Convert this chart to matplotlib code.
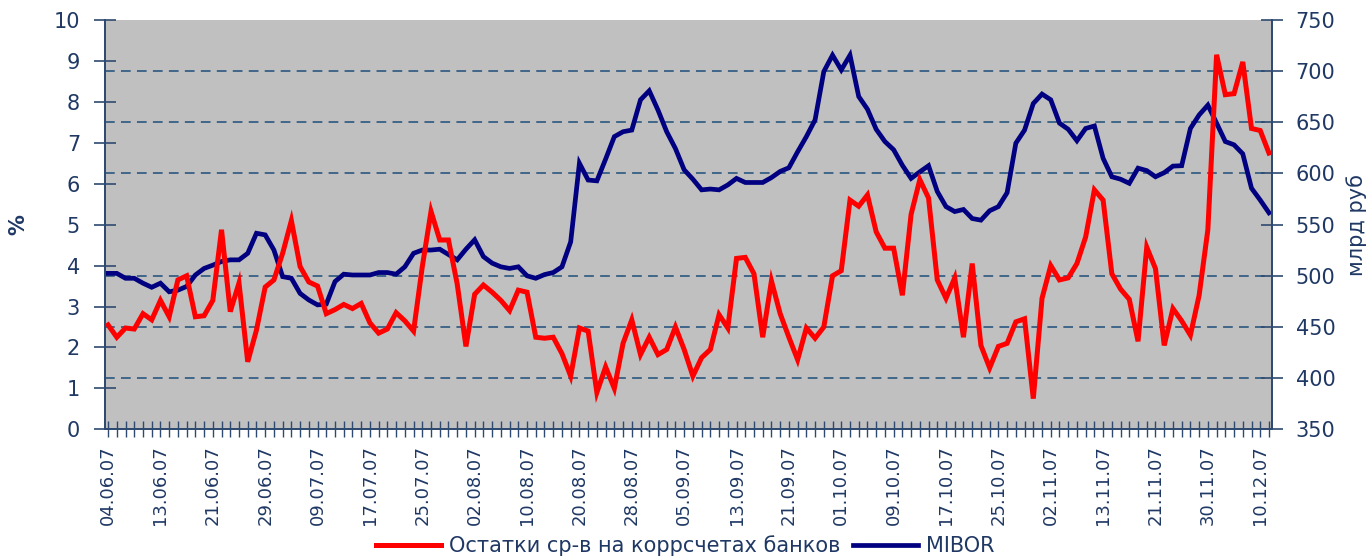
import matplotlib
matplotlib.use("Agg")
import matplotlib.pyplot as plt
from matplotlib.lines import Line2D

# ---- data ----
date_labels = ["04.06.07", "13.06.07", "21.06.07", "29.06.07", "09.07.07", "17.07.07",
               "25.07.07", "02.08.07", "10.08.07", "20.08.07", "28.08.07", "05.09.07",
               "13.09.07", "21.09.07", "01.10.07", "09.10.07", "17.10.07", "25.10.07",
               "02.11.07", "13.11.07", "21.11.07", "30.11.07", "10.12.07"]
label_step = 6

# Остатки ср-в на коррсчетах банков, млрд руб (right axis)
balances = [452, 440, 449, 448, 463, 457, 476, 460, 496, 500,
            460, 461, 476, 545, 465, 493, 416, 447, 489, 496,
            522, 554, 509, 494, 490, 463, 467, 472, 468, 473,
            454, 444, 448, 464, 456, 446, 509, 563, 535, 535,
            492, 431, 482, 491, 484, 476, 466, 486, 484, 440,
            439, 440, 424, 402, 449, 446, 386, 411, 390, 434,
            457, 423, 440, 423, 428, 450, 428, 402, 420, 428,
            462, 449, 517, 518, 502, 440, 495, 463, 440, 418,
            449, 439, 450, 500, 505, 574, 568, 579, 543, 527,
            527, 481, 560, 594, 576, 496, 478, 498, 440, 512,
            432, 410, 431, 434, 455, 458, 380, 478, 510, 496,
            498, 512, 538, 584, 574, 502, 487, 477, 436, 528,
            507, 432, 468, 456, 442, 481, 545, 716, 677, 678,
            709, 644, 642, 620]

# MIBOR, % (left axis)
mibor = [3.81, 3.81, 3.69, 3.69, 3.57, 3.47, 3.57, 3.36, 3.40, 3.49,
         3.77, 3.93, 4.01, 4.10, 4.14, 4.14, 4.30, 4.79, 4.75, 4.38,
         3.73, 3.69, 3.32, 3.16, 3.04, 3.06, 3.61, 3.79, 3.77, 3.77,
         3.77, 3.83, 3.83, 3.79, 3.97, 4.30, 4.38, 4.38, 4.40, 4.27,
         4.14, 4.40, 4.63, 4.22, 4.06, 3.97, 3.93, 3.97, 3.75, 3.69,
         3.78, 3.83, 3.97, 4.58, 6.50, 6.09, 6.07, 6.60, 7.15, 7.27,
         7.31, 8.05, 8.27, 7.80, 7.27, 6.86, 6.34, 6.11, 5.85, 5.87,
         5.85, 5.97, 6.13, 6.03, 6.03, 6.03, 6.15, 6.30, 6.39, 6.78,
         7.15, 7.56, 8.74, 9.14, 8.78, 9.14, 8.13, 7.82, 7.33, 7.03,
         6.83, 6.45, 6.13, 6.29, 6.44, 5.81, 5.44, 5.32, 5.37, 5.15,
         5.11, 5.34, 5.44, 5.78, 6.99, 7.31, 7.96, 8.19, 8.05, 7.48,
         7.33, 7.05, 7.35, 7.41, 6.62, 6.17, 6.11, 6.01, 6.38, 6.32,
         6.17, 6.27, 6.43, 6.44, 7.35, 7.68, 7.92, 7.48, 7.03, 6.95,
         6.73, 5.89, 5.60, 5.29]

left_ticks = list(range(0, 11))
right_ticks = list(range(350, 751, 50))

navy = "#1F3864"
axis_col = "#2E4A70"

plt.rcParams["font.family"] = ["DejaVu Sans"]
plt.rcParams["lines.scale_dashes"] = False

fig = plt.figure(figsize=(13.71, 5.58), dpi=100)
ax = fig.add_axes([0.0766, 0.2306, 0.8512, 0.7336])
ax2 = ax.twinx()

x = list(range(len(mibor)))

ax.set_facecolor("#C0C0C0")
ax.plot(x, mibor, color="#000080", lw=3.4, solid_joinstyle="miter", zorder=3)
ax2.plot(x, balances, color="#FF0000", lw=3.6, solid_joinstyle="miter", zorder=3)

ax.set_xlim(-0.35, len(mibor) - 1 + 0.35)
ax.set_ylim(0, 10)
ax2.set_ylim(350, 750)

# ticks
ax.set_xticks(list(range(0, len(date_labels) * label_step, label_step)))
ax.set_xticklabels(date_labels, rotation=90, fontsize=13, color=navy)
ax.set_xticks(x, minor=True)
ax.tick_params(axis="x", which="both", direction="inout", length=11, width=1.0,
               color=axis_col, pad=6)

ax.set_yticks(left_ticks)
ax.set_yticklabels([str(v) for v in left_ticks], fontsize=15, color=navy)
ax.tick_params(axis="y", which="major", direction="inout", length=16, width=1.2,
               color=axis_col, pad=10)

ax2.set_yticks(right_ticks)
ax2.set_yticklabels([str(v) for v in right_ticks], fontsize=15, color=navy)
ax2.tick_params(axis="y", direction="inout", length=16, width=1.2,
                color=axis_col, pad=9)

# dashed gridlines at the right-axis ticks (drawn in the left axes, below lines)
r0, r1 = ax2.get_ylim()
grid_pos = [(v - r0) / (r1 - r0) * 10 for v in right_ticks[1:-1]]
ax.set_yticks(grid_pos, minor=True)
ax.tick_params(axis="y", which="minor", length=0)
ax.yaxis.grid(True, which="minor", color="#1F4E79", lw=1.1, dashes=(7, 4.5), zorder=1)
ax.set_axisbelow(True)

for a in (ax, ax2):
    a.spines["top"].set_visible(False)
    for s in ("left", "right", "bottom"):
        a.spines[s].set_color(axis_col)
        a.spines[s].set_linewidth(1.3)

ax.set_ylabel("%", fontsize=15, color=navy, labelpad=18, fontweight="bold")
ax2.set_ylabel("млрд руб", fontsize=15, color=navy, labelpad=8)

handles = [Line2D([], [], color="#FF0000", lw=3.6),
           Line2D([], [], color="#000080", lw=3.4)]
fig.legend(handles, ["Остатки ср-в на коррсчетах банков", "MIBOR"],
           loc="center", bbox_to_anchor=(0.5, 0.022), ncol=2, frameon=False,
           fontsize=15, handlelength=3.1, handletextpad=0.4, columnspacing=0.6,
           labelcolor=navy)

fig.savefig("out.png", dpi=100, facecolor="white")
